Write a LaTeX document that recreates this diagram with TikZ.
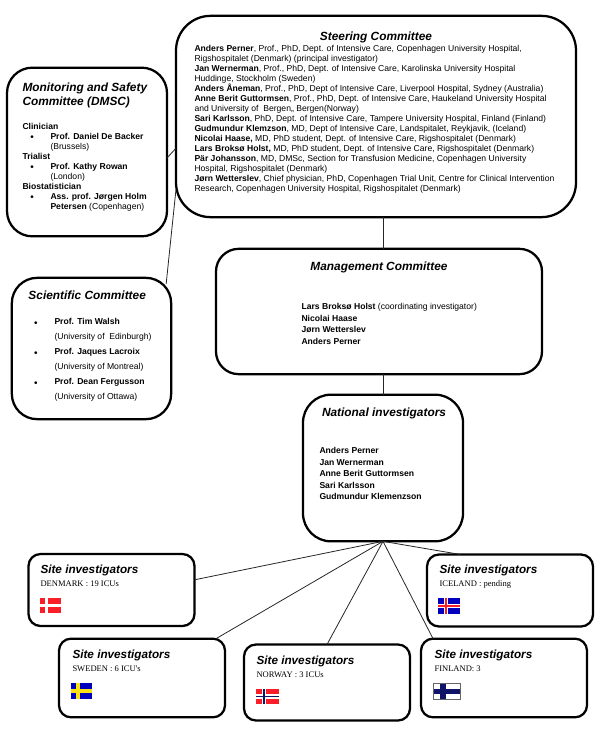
\documentclass[tikz,border=0pt]{standalone}
\usepackage{fontspec}
\setmainfont{Liberation Sans}
\newfontfamily\timesfont{Liberation Serif}
\usetikzlibrary{calc}

\tikzset{every picture/.style={line width=0.75pt}}
\tikzset{
  boxnode/.style={draw,line width=1.7pt,fill=white,inner sep=0pt,outer sep=0pt,rounded corners=#1},
  sitebox/.style={boxnode=9pt,minimum width=124.5pt,minimum height=54pt},
  headtext/.style={anchor=north west,inner sep=0pt,font=\fontsize{8.9pt}{10.5pt}\selectfont\bfseries\itshape,align=left},
  sitehead/.style={headtext,font=\fontsize{8.8pt}{10pt}\selectfont\bfseries\itshape},
  bodytext/.style={anchor=north west,inner sep=0pt,font=\fontsize{6.45pt}{7.5pt}\selectfont,align=left},
  sitetext/.style={anchor=north west,inner sep=0pt,font=\fontsize{6.4pt}{7.5pt}\selectfont\timesfont},
  bulletmark/.style={inner sep=0pt,font=\fontsize{7.5pt}{8pt}\selectfont},
  linkline/.style={line width=0.6pt,draw=black!85}
}
% flag: left, top, right, bottom, cross x, cross half width, field colour, cross colour
\newcommand{\flagrect}[8]{%
  \fill[#7] (#1,#2) rectangle (#3,#4);
  \fill[#8] ({#5-#6},#2) rectangle ({#5+#6},#4);
  \fill[#8] (#1,{(#2+#4)/2-#6}) rectangle (#3,{(#2+#4)/2+#6});
}
\definecolor{flagred}{RGB}{250,30,40}
\definecolor{flagblue}{RGB}{0,0,190}
\definecolor{flagnavy}{RGB}{15,20,105}
\definecolor{flagyellow}{RGB}{250,225,20}

\begin{document}
\begin{tikzpicture}[x=0.75pt,y=0.75pt,yscale=-1,xscale=1]
  \useasboundingbox (0,0) rectangle (600,734);

  %Committee boxes
  \node[boxnode=26pt,minimum width=300pt,minimum height=151pt] (steering) at (376,116.5) {};
  \node[boxnode=19pt,minimum width=120pt,minimum height=126.5pt] (dmsc) at (87,152) {};
  \node[boxnode=19pt,minimum width=119.5pt,minimum height=106pt] (scientific) at (91.5,348.5) {};
  \node[boxnode=17pt,minimum width=244.5pt,minimum height=94pt] (management) at (379,311.5) {};
  \node[boxnode=21pt,minimum width=120pt,minimum height=110pt] (national) at (383,468) {};

  %Site boxes
  \node[sitebox] (sitedenmark) at (111.5,590) {};
  \node[sitebox,minimum height=59pt] (sitesweden) at (142,678) {};
  \node[sitebox,minimum height=57pt] (sitenorway) at (327,682.5) {};
  \node[sitebox] (siteiceland) at (510,590.5) {};
  \node[sitebox,minimum height=59pt] (sitefinland) at (504,678) {};

  %Connectors
  \draw[linkline] (national.north |- steering.south) -- (national.north |- management.north);
  \draw[linkline] (national.north |- management.south) -- (national.north);
  \draw[linkline] ($(dmsc.east)+(0,6)$) -- (steering.189);
  \draw[linkline] ($(scientific.north east)+(-5,6)$) -- (steering.200);
  \draw[linkline] (national.south) -- (sitedenmark.7);
  \draw[linkline] (national.south) -- (sitesweden.28);
  \draw[linkline] (national.south) -- (sitenorway.north);
  \draw[linkline] (national.south) -- (sitefinland.151);
  \draw[linkline] (national.south) -- (siteiceland.144);

  %Steering Committee
  \node[headtext,anchor=north] (steeringhead) at (376,31) {Steering Committee};
  \node[bodytext] (steeringbody) at (194,45) {\textbf{Anders Perner}, Prof., PhD, Dept. of Intensive Care, Copenhagen University Hospital,\\
    Rigshospitalet (Denmark) (principal investigator)\\
    \textbf{Jan Wernerman}, Prof., PhD, Dept. of Intensive Care, Karolinska University Hospital\\
    Huddinge, Stockholm (Sweden)\\
    \textbf{Anders Åneman}, Prof., PhD, Dept of Intensive Care, Liverpool Hospital, Sydney (Australia)\\
    \textbf{Anne Berit Guttormsen}, Prof., PhD, Dept. of Intensive Care, Haukeland University Hospital\\
    and University of ~Bergen,, Bergen(Norway)\\
    \textbf{Sari Karlsson}, PhD, Dept. of Intensive Care, Tampere University Hospital, Finland (Finland)\\
    \textbf{Gudmundur Klemzson}, MD, Dept of Intensive Care, Landspitalet, Reykjavik, (Iceland)\\
    \textbf{Nicolai Haase,} MD, PhD student, Dept. of Intensive Care, Rigshospitalet (Denmark)\\
    \textbf{Lars Broksø Holst,} MD, PhD student, Dept. of Intensive Care, Rigshospitalet (Denmark)\\
    \textbf{Pär Johansson}, MD, DMSc, Section for Transfusion Medicine, Copenhagen University\\
    Hospital, Rigshospitalet (Denmark)\\
    \textbf{Jørn Wetterslev}, Chief physician, PhD, Copenhagen Trial Unit, Centre for Clinical Intervention\\
    Research, Copenhagen University Hospital, Rigshospitalet (Denmark)};

  %DMSC
  \node[headtext] (dmschead) at (22,82) {Monitoring and Safety\\Committee (DMSC)};
  \node[bodytext] (dmsclabels) at (22,123) {\textbf{Clinician}\\[15pt]\textbf{Trialist}\\[15pt]\textbf{Biostatistician}};
  \node[bodytext] (dmscnames) at (50,133) {\textbf{Prof. Daniel De Backer}\\(Brussels)\\[7.5pt]\textbf{Prof. Kathy Rowan}\\(London)\\[7.5pt]\textbf{Ass. prof. Jørgen Holm}\\\textbf{Petersen} (Copenhagen)};
  \foreach \bulletname/\bullety in {a/138,b/168,c/198}
    \node[bulletmark] (dmscbullet\bulletname) at (32,\bullety) {\textbullet};

  %Scientific Committee
  \node[headtext] (scientifichead) at (28,290) {Scientific Committee};
  \node[bodytext,font=\fontsize{6.45pt}{11.25pt}\selectfont] (scientificnames) at (54,318) {\textbf{Prof. Tim Walsh}\\(University of ~Edinburgh)\\\textbf{Prof. Jaques Lacroix}\\(University of Montreal)\\\textbf{Prof. Dean Fergusson}\\(University of Ottawa)};
  \foreach \bulletname/\bullety in {a/324,b/354,c/384}
    \node[bulletmark] (scientificbullet\bulletname) at (36,\bullety) {\textbullet};

  %Management Committee
  \node[headtext,anchor=north] (managementhead) at (379,261) {Management Committee};
  \node[bodytext,font=\fontsize{6.45pt}{8.6pt}\selectfont] (managementnames) at (301,303) {\textbf{Lars Broksø Holst} (coordinating investigator)\\\textbf{Nicolai Haase}\\\textbf{Jørn Wetterslev}\\\textbf{Anders Perner}};

  %National investigators
  \node[headtext,anchor=north] (nationalhead) at (384,407) {National investigators};
  \node[bodytext,font=\fontsize{6.45pt}{8.6pt}\selectfont] (nationalnames) at (319,447) {\textbf{Anders Perner}\\\textbf{Jan Wernerman}\\\textbf{Anne Berit Guttormsen}\\\textbf{Sari Karlsson}\\\textbf{Gudmundur Klemenzson}};

  %Site texts
  \foreach \sitename/\sitex/\sitey/\sitelabel in {denmark/40/564/{DENMARK : 19 ICUs},sweden/72/649/{SWEDEN : 6 ICU's},norway/256/655/{NORWAY : 3 ICUs},iceland/439/564/{ICELAND : pending},finland/434/649/{FINLAND: 3}}{
    \node[sitehead] (head\sitename) at (\sitex,\sitey) {Site investigators};
    \node[sitetext] (text\sitename) at (\sitex,\sitey+16) {\sitelabel};
  }

  %Flags
  \flagrect{40}{598}{61}{613}{46}{1.5}{flagred}{white}
  \flagrect{71}{683}{92}{699}{78}{1.7}{flagblue}{flagyellow}
  \flagrect{256}{689}{279}{704}{264}{2.4}{flagred}{white}
  \fill[flagnavy] (262.8,689) rectangle (265.2,704);
  \fill[flagnavy] (256,695.8) rectangle (279,697.2);
  \flagrect{438}{598}{460}{614}{446}{2.2}{flagblue}{white}
  \fill[flagred] (445,598) rectangle (447,614);
  \fill[flagred] (438,605) rectangle (460,607);
  \flagrect{433.5}{683.5}{460.5}{699.5}{443}{2.6}{white}{flagnavy}
  \draw[line width=0.5pt,draw=black!60] (433.5,683.5) rectangle (460.5,699.5);
\end{tikzpicture}
\end{document}
